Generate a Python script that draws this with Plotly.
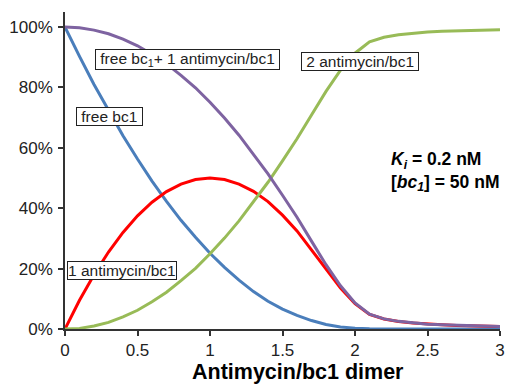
import plotly.graph_objects as go

# Antimycin/bc1 dimer ratio
ratio = [0, 0.05, 0.1, 0.2, 0.3, 0.4, 0.5, 0.6, 0.7, 0.8, 0.9, 1.0, 1.1, 1.2, 1.3, 1.4,
         1.5, 1.6, 1.7, 1.8, 1.9, 2.0, 2.1, 2.2, 2.3, 2.4, 2.5, 2.6, 2.7, 2.8, 2.9, 3.0]

# Percent of bc1 dimer in each state
free_bc1 = [100, 95, 90.3, 81, 72.3, 64, 56.3, 49, 42.3, 36, 30.4, 25.1, 20.4, 16.2, 12.4, 9.2,
            6.6, 4.5, 2.8, 1.5, 0.7, 0.25, 0.1, 0.05, 0.03, 0.02, 0.01, 0.01, 0.01, 0, 0, 0]
one_antimycin = [0, 4.9, 9.5, 18, 25.5, 32, 37.5, 42, 45.5, 48, 49.5, 50, 49.5, 48, 45.6, 42.2,
                 37.7, 32.5, 26.3, 19.8, 13.6, 8.4, 4.8, 3.3, 2.5, 2.0, 1.6, 1.4, 1.2, 1.05, 0.95, 0.85]
two_antimycin = [0, 0.1, 0.2, 1, 2.2, 4, 6.2, 9, 12.2, 16, 20.1, 24.9, 30.1, 35.8, 42, 48.6,
                 55.7, 63, 70.9, 78.7, 85.7, 91.35, 95.1, 96.65, 97.47, 97.98, 98.39, 98.59, 98.79, 98.95, 99.05, 99.15]
free_plus_one = [100, 99.9, 99.8, 99, 97.8, 96, 93.8, 91, 87.8, 84, 79.9, 75.1, 69.9, 64.2, 58, 51.4,
                 44.3, 37, 29.1, 21.3, 14.3, 8.65, 4.9, 3.35, 2.53, 2.02, 1.61, 1.41, 1.21, 1.05, 0.95, 0.85]

x_ticks = [0, 0.5, 1, 1.5, 2, 2.5, 3]
x_tick_labels = ["0", "0.5", "1", "1.5", "2", "2.5", "3"]
y_ticks = [0, 20, 40, 60, 80, 100]
y_tick_labels = ["0%", "20%", "40%", "60%", "80%", "100%"]

FONT = "Liberation Sans, Arial, Helvetica, sans-serif"

fig = go.Figure()
series = [
    (free_bc1, "#4A7EBB", "free bc1"),
    (one_antimycin, "#FF0000", "1 antimycin/bc1"),
    (two_antimycin, "#98BB57", "2 antimycin/bc1"),
    (free_plus_one, "#7E63A1", "free bc1 + 1 antimycin/bc1"),
]
for ys, col, name in series:
    fig.add_trace(go.Scatter(x=ratio, y=ys, mode="lines", name=name,
                             line=dict(color=col, width=3), cliponaxis=False))

box = dict(showarrow=False, bgcolor="white", bordercolor="#222", borderwidth=1,
           borderpad=0, font=dict(family=FONT, size=15.5, color="#222"),
           xref="x", yref="y")
fig.add_annotation(x=0.845, y=89.4, text="&nbsp;free bc<sub>1</sub>+ 1 antimycin/bc1&nbsp;", **box)
fig.add_annotation(x=2.033, y=88.7, text="&nbsp;2 antimycin/bc1&nbsp;", **box)
fig.add_annotation(x=0.308, y=70.5, text="&nbsp;free bc1&nbsp;", **box)
fig.add_annotation(x=0.393, y=19.4, text="1 antimycin/bc1", **box)

fig.add_annotation(x=2.235, y=52.3, xref="x", yref="y", xanchor="left", yanchor="middle",
                   align="left", showarrow=False,
                   text="<b><i>K<sub>i</sub></i> = 0.2 nM</b><br><b>[<i>bc<sub>1</sub></i>] = 50 nM</b>",
                   font=dict(family=FONT, size=17.5, color="black"))

# x-axis title
fig.add_annotation(x=0.5356, y=-0.1356, xref="paper", yref="paper", xanchor="center",
                   yanchor="middle", showarrow=False, text="<b>Antimycin/bc1 dimer</b>",
                   font=dict(family=FONT, size=21.5, color="black"))

axis_common = dict(showgrid=False, zeroline=False, showline=True, linecolor="#333",
                   linewidth=1.5, ticks="outside", ticklen=5, tickwidth=1.5, tickcolor="#333",
                   tickfont=dict(family=FONT, size=17, color="#222"))

fig.update_xaxes(range=[0, 3], tickvals=x_ticks, ticktext=x_tick_labels, **axis_common)
fig.update_yaxes(range=[0, 105], tickvals=y_ticks, ticktext=y_tick_labels,
                 ticklabelstandoff=2, **axis_common)

fig.update_layout(width=508, height=384, showlegend=False,
                  margin=dict(l=65, r=8, t=12, b=55, autoexpand=False),
                  plot_bgcolor="white", paper_bgcolor="white")

# remove the default page margin so the figure fills the window exactly
fig.write_html("out.html", config={"displayModeBar": False},
               post_script="document.body.style.margin='0';")
